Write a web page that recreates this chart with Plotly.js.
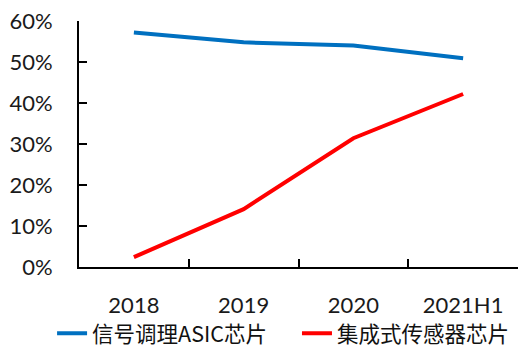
<!DOCTYPE html>
<html>
<head>
<meta charset="utf-8">
<script src="https://cdn.plot.ly/plotly-3.0.1.min.js"></script>
<style>html,body{margin:0;padding:0;background:#fff;}#chart{width:526px;height:349px;}</style>
</head>
<body>
<div id="chart"></div>
<script>
const categories = ["2018", "2019", "2020", "2021H1"];
const seriesNames = ["信号调理ASIC芯片", "集成式传感器芯片"];
const asicShare = [0.572, 0.548, 0.540, 0.509];
const sensorShare = [0.024, 0.141, 0.314, 0.422];
const yTickVals = [0, 0.1, 0.2, 0.3, 0.4, 0.5, 0.6];

const font = "Lato, 'Noto Sans CJK SC', sans-serif";
const legendFont = {family: "'Noto Sans CJK SC', sans-serif", size: 21.5, color: "#111"};
const traces = [
  {x: categories, y: asicShare, name: seriesNames[0], type: "scatter", mode: "lines",
   line: {color: "#0070C0", width: 4}, legend: "legend"},
  {x: categories, y: sensorShare, name: seriesNames[1], type: "scatter", mode: "lines",
   line: {color: "#FF0000", width: 4}, legend: "legend2"}
];
const layout = {
  width: 526, height: 349,
  margin: {l: 79, r: 8, t: 21, b: 82},
  paper_bgcolor: "#fff", plot_bgcolor: "#fff",
  font: {family: font, size: 22, color: "#1a1a1a"},
  showlegend: true,
  legend: {orientation: "h", xref: "container", x: 0.099, xanchor: "left",
    yref: "container", y: 0.045, yanchor: "middle", font: legendFont},
  legend2: {orientation: "h", xref: "container", x: 0.5646, xanchor: "left",
    yref: "container", y: 0.045, yanchor: "middle", font: legendFont},
  xaxis: {type: "category", range: [-0.5, 3.5], automargin: false, showgrid: false, zeroline: false, showline: true,
    linecolor: "#000", linewidth: 2, ticks: "inside", ticklen: 8, tickwidth: 2,
    tickcolor: "#000", tickson: "boundaries", ticklabelstandoff: 18,
    tickfont: {family: font, size: 22, color: "#1a1a1a"}, fixedrange: true},
  yaxis: {range: [0, 0.6], automargin: false, tickvals: yTickVals, tickformat: ".0%", showgrid: false,
    zeroline: false, showline: true, linecolor: "#000", linewidth: 2,
    ticks: "inside", ticklen: 8, tickwidth: 2, tickcolor: "#000",
    ticklabelstandoff: 20, tickfont: {family: font, size: 22, color: "#1a1a1a"}, fixedrange: true}
};
Plotly.newPlot("chart", traces, layout, {staticPlot: true, displayModeBar: false});
</script>
</body>
</html>
